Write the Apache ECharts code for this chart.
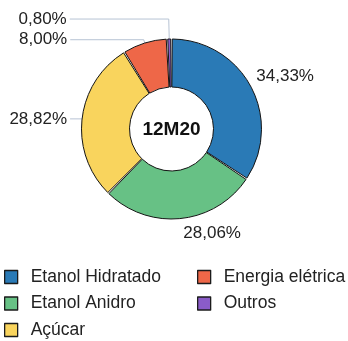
<!DOCTYPE html>
<html>
<head>
<meta charset="utf-8">
<style>
  html, body { margin: 0; padding: 0; background: #ffffff; }
  #chart { width: 348px; height: 341px; }
</style>
<script src="https://cdn.jsdelivr.net/npm/echarts@6/dist/echarts.min.js"></script>
</head>
<body>
<div id="chart"></div>
<script>
// Revenue mix, trailing 12 months 2020 (share of total, %)
const categories = ['Etanol Hidratado', 'Etanol Anidro', 'Açúcar', 'Energia elétrica', 'Outros'];
const shares = [34.33, 28.06, 28.82, 8.00, 0.80];
const sliceColors = ['#2a7ab6', '#67c185', '#f9d45d', '#ee6748', '#8a5cc8'];
const centerTitle = '12M20';
const legendLeftColumn = ['Etanol Hidratado', 'Etanol Anidro', 'Açúcar'];
const legendRightColumn = ['Energia elétrica', 'Outros'];

const FONT = 'Liberation Sans, Arial, sans-serif';

// Per-slice label placement: right-hand labels sit free next to the ring,
// left-hand ones hang on leader lines that all end at the same x.
const labelPlacement = [
  { line: false, length: 4, length2: 0, distance: 2, lift: 8 },
  { line: false, length: 15, length2: 0, distance: 1, lift: 0 },
  { line: true, length: 0, length2: 12, distance: 3, lift: 0 },
  { line: true, length: 3.5, length2: 73.5, distance: 3, lift: 0 },
  { line: true, length: 20, length2: 99, distance: 3, lift: 0 }
];

const pieData = categories.map(function (name, i) {
  const p = labelPlacement[i];
  return {
    name: name,
    value: shares[i],
    itemStyle: { color: sliceColors[i] },
    label: { distanceToLabelLine: p.distance },
    labelLine: { show: p.line, length: p.length, length2: p.length2 }
  };
});

function pct(v) {
  return v.toFixed(2).replace('.', ',') + '%';
}

const legendCommon = {
  orient: 'vertical',
  top: 268,
  padding: 0,
  icon: 'rect',
  itemWidth: 13,
  itemHeight: 13,
  itemGap: 8.5,
  itemStyle: { borderColor: '#1b1b1b', borderWidth: 1.3 },
  textStyle: { fontFamily: FONT, fontSize: 17.5, color: '#222', padding: [0, 0, 0, 8] },
  selectedMode: false
};

const chart = echarts.init(document.getElementById('chart'), null, { renderer: 'canvas' });
chart.setOption({
  animation: false,
  backgroundColor: '#ffffff',
  legend: [
    Object.assign({}, legendCommon, { left: 4, data: legendLeftColumn }),
    Object.assign({}, legendCommon, { left: 197, data: legendRightColumn })
  ],
  graphic: [{
    type: 'text',
    x: 171.5,
    y: 130,
    style: {
      text: centerTitle,
      align: 'center',
      verticalAlign: 'middle',
      font: 'bold 19px ' + FONT,
      fill: '#111'
    }
  }],
  series: [{
    type: 'pie',
    center: [171.5, 129],
    radius: [42, 90],
    startAngle: 90,
    clockwise: true,
    padAngle: 1,
    avoidLabelOverlap: true,
    itemStyle: { borderColor: '#151515', borderWidth: 1 },
    emphasis: { disabled: true },
    label: {
      show: true,
      position: 'outside',
      alignTo: 'none',
      formatter: function (p) { return pct(p.value); },
      fontFamily: FONT,
      fontSize: 17,
      color: '#222',
      edgeDistance: 2,
      bleedMargin: 2
    },
    labelLine: {
      smooth: false,
      lineStyle: { color: '#b7c3d4', width: 1 }
    },
    labelLayout: function (p) {
      const lift = labelPlacement[p.dataIndex].lift;
      if (!lift) {
        return {};
      }
      return { y: p.labelRect.y + p.labelRect.height / 2 - lift };
    },
    data: pieData
  }]
});
</script>
</body>
</html>
